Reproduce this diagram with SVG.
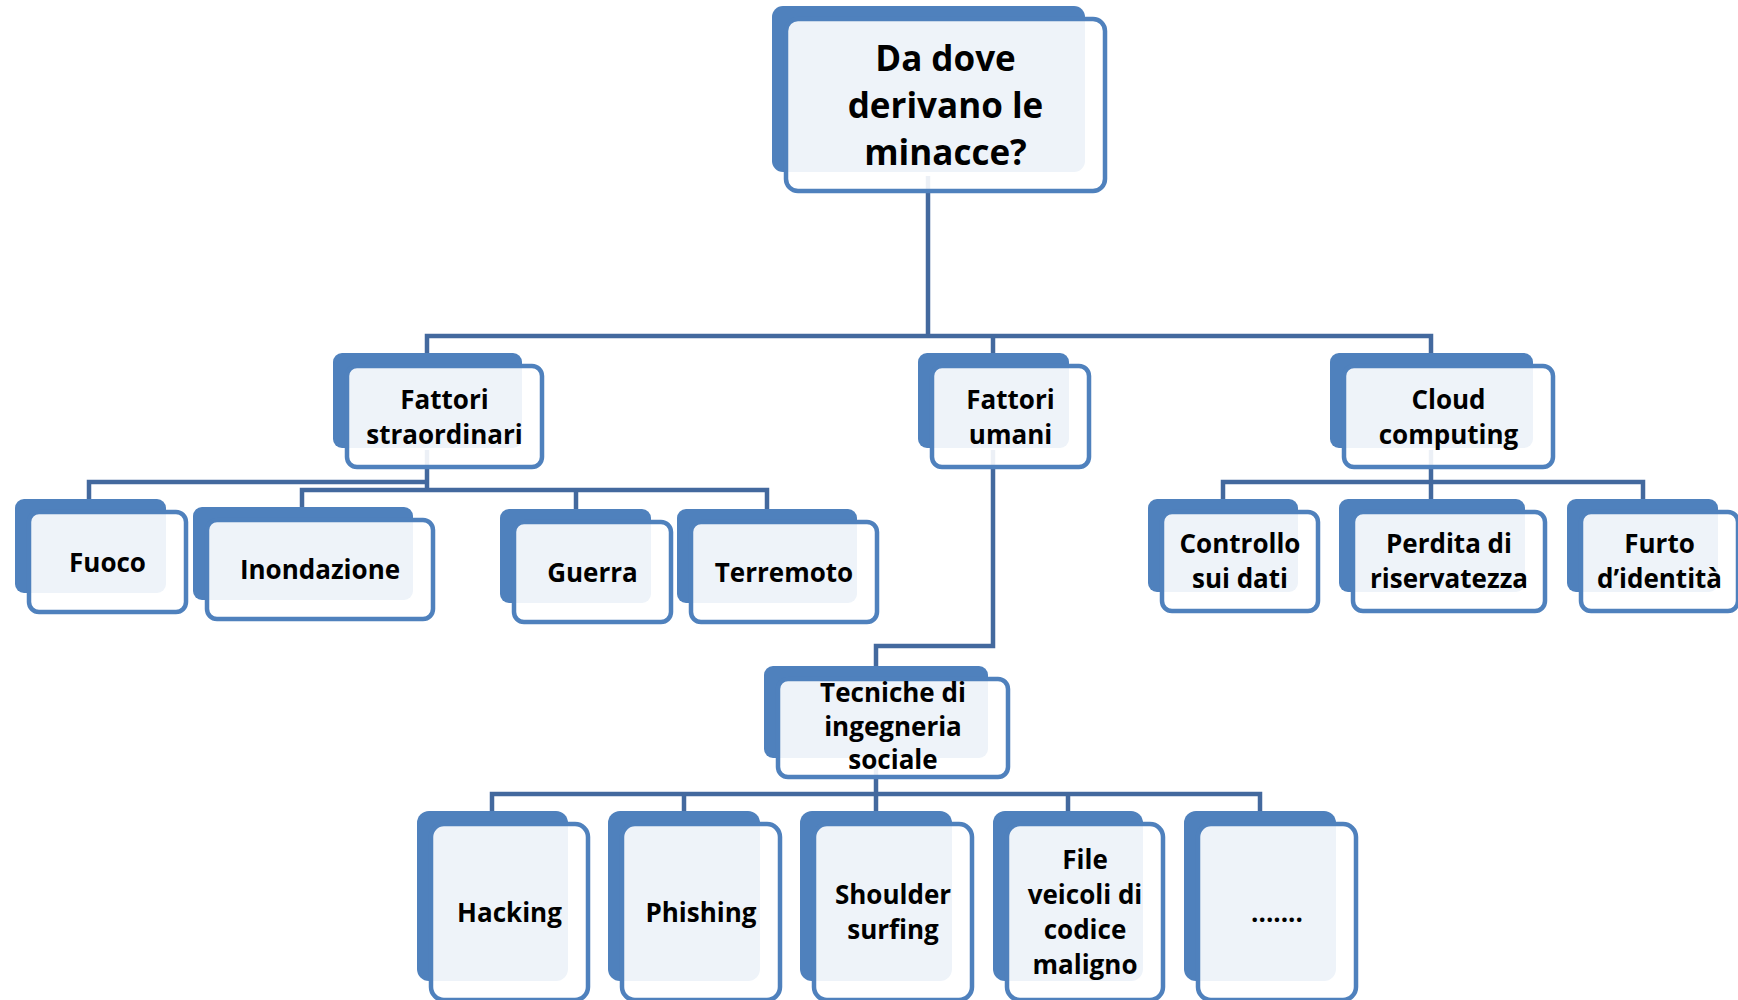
<svg xmlns="http://www.w3.org/2000/svg" width="1738" height="1000" viewBox="0 0 1738 1000">
  <style>
    .back { fill: #4F81BD; }
    .front { fill: #FFFFFF; fill-opacity: 0.9; stroke: #4F81BD; stroke-width: 4.5; }
    .conn { fill: none; stroke: #43699E; stroke-width: 4.5; stroke-linejoin: miter; }
    text { font-family: "Open Sans", "Liberation Sans", sans-serif; font-weight: 700; fill: #000000; text-anchor: middle; }
    .t1 { font-size: 35px; }
    .t2 { font-size: 26px; }
  </style>
  <rect width="1738" height="1000" fill="#FFFFFF"/>

  <!-- connectors, drawn below the boxes -->
  <g id="connectors" class="conn">
    <path d="M928,176 V336"/>
    <path d="M427,356 V336 H1431 V356"/>
    <path d="M993,336 V356"/>
    <!-- Fattori straordinari -->
    <path d="M427,450 V490"/>
    <path d="M89,501 V482 H427"/>
    <path d="M302,509 V490 H767 V511"/>
    <path d="M576,490 V511"/>
    <!-- Fattori umani -->
    <path d="M993,450 V646 H876 V668"/>
    <!-- Cloud computing -->
    <path d="M1431,450 V482"/>
    <path d="M1223,501 V482 H1643 V501"/>
    <path d="M1431,482 V501"/>
    <!-- Tecniche di ingegneria sociale -->
    <path d="M876,760 V794"/>
    <path d="M492,813 V794 H1260 V813"/>
    <path d="M684,794 V813"/>
    <path d="M876,794 V813"/>
    <path d="M1068,794 V813"/>
  </g>

  <!-- root -->
  <g id="root">
    <rect class="back" x="772" y="6" width="313" height="166" rx="11"/>
    <rect class="front" x="786" y="19" width="319" height="172" rx="12"/>
    <text class="t1" x="945.5" y="70.5">Da dove</text>
    <text class="t1" x="945.5" y="117.5">derivano le</text>
    <text class="t1" x="945.5" y="164.5">minacce?</text>
  </g>

  <!-- level 1 -->
  <g id="fattori-straordinari">
    <rect class="back" x="333" y="353" width="189" height="95" rx="9"/>
    <rect class="front" x="347" y="366" width="195" height="101" rx="10"/>
    <text class="t2" x="444.5" y="408.5">Fattori</text>
    <text class="t2" x="444.5" y="443.5">straordinari</text>
  </g>
  <g id="fattori-umani">
    <rect class="back" x="918" y="353" width="151" height="95" rx="9"/>
    <rect class="front" x="932" y="366" width="157" height="101" rx="10"/>
    <text class="t2" x="1010.5" y="408.5">Fattori</text>
    <text class="t2" x="1010.5" y="443.5">umani</text>
  </g>
  <g id="cloud-computing">
    <rect class="back" x="1330" y="353" width="203" height="95" rx="9"/>
    <rect class="front" x="1344" y="366" width="209" height="101" rx="10"/>
    <text class="t2" x="1448.5" y="408.5">Cloud</text>
    <text class="t2" x="1448.5" y="443.5">computing</text>
  </g>

  <!-- Fattori straordinari children -->
  <g id="fuoco">
    <rect class="back" x="15" y="499" width="151" height="94" rx="9"/>
    <rect class="front" x="29" y="512" width="157" height="100" rx="10"/>
    <text class="t2" x="107.5" y="571.5">Fuoco</text>
  </g>
  <g id="inondazione">
    <rect class="back" x="193" y="507" width="220" height="93" rx="9"/>
    <rect class="front" x="207" y="520" width="226" height="99" rx="10"/>
    <text class="t2" x="320" y="579">Inondazione</text>
  </g>
  <g id="guerra">
    <rect class="back" x="500" y="509" width="151" height="94" rx="9"/>
    <rect class="front" x="514" y="522" width="157" height="100" rx="10"/>
    <text class="t2" x="592.5" y="581.5">Guerra</text>
  </g>
  <g id="terremoto">
    <rect class="back" x="677" y="509" width="180" height="94" rx="9"/>
    <rect class="front" x="691" y="522" width="186" height="100" rx="10"/>
    <text class="t2" x="784" y="581.5">Terremoto</text>
  </g>

  <!-- Cloud computing children -->
  <g id="controllo">
    <rect class="back" x="1148" y="499" width="150" height="93" rx="9"/>
    <rect class="front" x="1162" y="512" width="156" height="99" rx="10"/>
    <text class="t2" x="1240" y="553">Controllo</text>
    <text class="t2" x="1240" y="588">sui dati</text>
  </g>
  <g id="perdita">
    <rect class="back" x="1339" y="499" width="186" height="93" rx="9"/>
    <rect class="front" x="1353" y="512" width="192" height="99" rx="10"/>
    <text class="t2" x="1449" y="553">Perdita di</text>
    <text class="t2" x="1449" y="588">riservatezza</text>
  </g>
  <g id="furto">
    <rect class="back" x="1567" y="499" width="151" height="93" rx="9"/>
    <rect class="front" x="1581" y="512" width="157" height="99" rx="10"/>
    <text class="t2" x="1659.5" y="553">Furto</text>
    <text class="t2" x="1659.5" y="588">d’identità</text>
  </g>

  <!-- Fattori umani child -->
  <g id="tecniche">
    <rect class="back" x="764" y="666" width="224" height="92" rx="9"/>
    <rect class="front" x="778" y="679" width="230" height="98" rx="10"/>
    <text class="t2" x="893" y="702">Tecniche di</text>
    <text class="t2" x="893" y="735.5">ingegneria</text>
    <text class="t2" x="893" y="769">sociale</text>
  </g>

  <!-- Tecniche di ingegneria sociale children -->
  <g id="hacking">
    <rect class="back" x="417" y="811" width="151" height="170" rx="12"/>
    <rect class="front" x="431" y="824" width="157" height="176" rx="13"/>
    <text class="t2" x="509.5" y="921.5">Hacking</text>
  </g>
  <g id="phishing">
    <rect class="back" x="608" y="811" width="152" height="170" rx="12"/>
    <rect class="front" x="622" y="824" width="158" height="176" rx="13"/>
    <text class="t2" x="701" y="921.5">Phishing</text>
  </g>
  <g id="shoulder">
    <rect class="back" x="800" y="811" width="152" height="170" rx="12"/>
    <rect class="front" x="814" y="824" width="158" height="176" rx="13"/>
    <text class="t2" x="893" y="904">Shoulder</text>
    <text class="t2" x="893" y="939">surfing</text>
  </g>
  <g id="file">
    <rect class="back" x="993" y="811" width="150" height="170" rx="12"/>
    <rect class="front" x="1007" y="824" width="156" height="176" rx="13"/>
    <text class="t2" x="1085" y="868.5">File</text>
    <text class="t2" x="1085" y="903.5">veicoli di</text>
    <text class="t2" x="1085" y="938.5">codice</text>
    <text class="t2" x="1085" y="973.5">maligno</text>
  </g>
  <g id="altro">
    <rect class="back" x="1184" y="811" width="152" height="170" rx="12"/>
    <rect class="front" x="1198" y="824" width="158" height="176" rx="13"/>
    <text class="t2" x="1277" y="921.5">.......</text>
  </g>
</svg>
